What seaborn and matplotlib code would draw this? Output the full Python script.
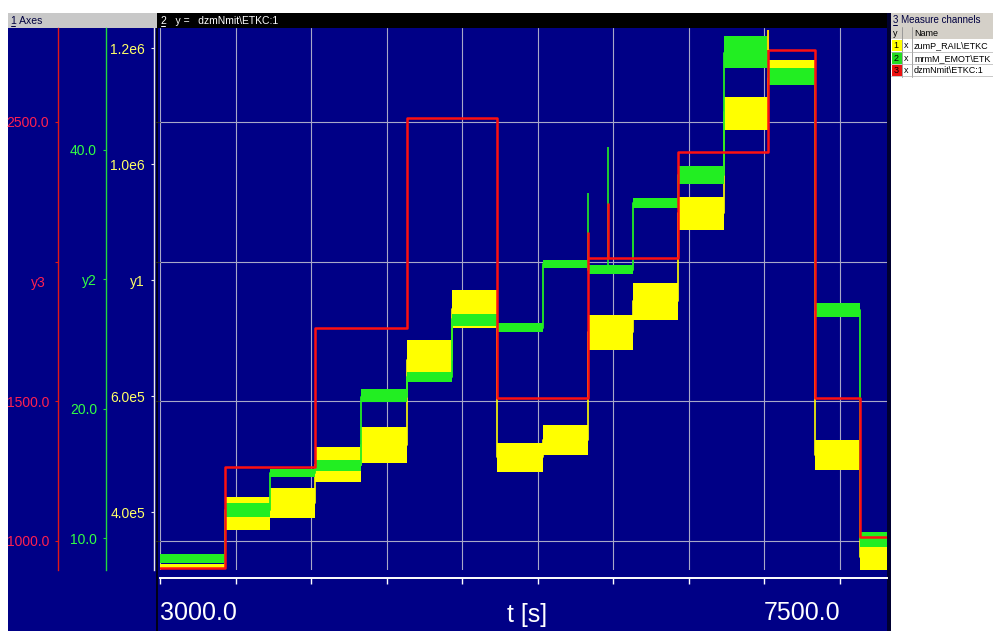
import matplotlib
matplotlib.use('Agg')
import matplotlib.pyplot as plt
from matplotlib.patches import Rectangle
import pandas as pd
import seaborn as sns

# ---------------- data ----------------
# segment edges of the measurement [s]
t_edges = [3000, 3430, 3728, 4026, 4330, 4634, 4932, 5230, 5534,
           5832, 6130, 6428, 6732, 7023, 7334, 7632, 7811]

# y3 : dzmNmit\ETKC:1 (red), one level per segment
rpm = [903, 1265, 1265, 1763, 1763, 2515, 2515, 1512, 1512,
       2013, 2013, 2393, 2393, 2758, 1512, 1014]

# y2 : mrmM_EMOT\ETKC:1 (green), level and noise band per segment
trq = [8.45, 12.2, 15.0, 15.65, 20.9, 22.45, 26.9, 26.25, 31.2,
       30.75, 35.9, 38.1, 47.5, 45.65, 27.6, 9.85]
trq_lo = [8.1, 11.6, 14.7, 15.2, 20.5, 22.1, 26.4, 25.9, 30.9,
          30.4, 35.5, 37.4, 46.3, 45.0, 27.1, 9.3]
trq_hi = [8.8, 12.7, 15.3, 16.0, 21.5, 22.8, 27.3, 26.6, 31.5,
          31.1, 36.3, 38.8, 48.8, 46.3, 28.2, 10.5]

# y1 : zumP_RAIL\ETKC:1 (yellow), level and noise band per segment
rail = [3.07e5, 3.98e5, 4.16e5, 4.81e5, 5.16e5, 6.62e5, 7.50e5, 4.95e5, 5.24e5,
        7.10e5, 7.64e5, 9.16e5, 1.090e6, 1.157e6, 4.98e5, 3.22e5]
rail_lo = [3.04e5, 3.69e5, 3.90e5, 4.52e5, 4.84e5, 6.28e5, 7.17e5, 4.69e5, 4.98e5,
           6.79e5, 7.31e5, 8.86e5, 1.059e6, 1.136e6, 4.72e5, 3.00e5]
rail_hi = [3.10e5, 4.26e5, 4.41e5, 5.12e5, 5.47e5, 6.97e5, 7.83e5, 5.19e5, 5.50e5,
           7.40e5, 7.95e5, 9.43e5, 1.116e6, 1.179e6, 5.24e5, 3.43e5]

# short spikes after the switches
spike_t = [5832, 5964]
rpm_spike = [2106, 2210]
trq_spike = [36.7, 40.2]
top_spike_t = [7023]
top_spike_rpm = [2830]

# channel names as far as the narrow table column shows them
channel_ids = ['1', '2', '3']
channel_names = ['zumP_RAIL\\ETKC', 'mrmM_EMOT\\ETK', 'dzmNmit\\ETKC:1']

x_ticks = [3000, 3500, 4000, 4500, 5000, 5500, 6000, 6500, 7000, 7500]
x_labels = ['3000.0', '', '', '', '', '', '', '', '', '7500.0']
y3_ticks = [1000, 1500, 2000, 2500]
y3_labels = ['1000.0', '1500.0', '', '2500.0']
y2_ticks = [10, 20, 30, 40]
y2_labels = ['10.0', '20.0', 'y2', '40.0']
y1_ticks = [4e5, 6e5, 8e5, 1.0e6, 1.2e6]
y1_labels = ['4.0e5', '6.0e5', 'y1', '1.0e6', '1.2e6']

# ---------------- style ----------------
BLUE = '#000086'
RED = '#ff1010'
GREEN = '#22ee22'
YELLOW = '#ffff00'
GRID = '#a8a8c8'
ARIAL = ['Liberation Sans', 'DejaVu Sans']

sns.set_style('white')
plt.rcParams['font.family'] = ARIAL

W, H = 993, 631


def box(x0, y0, x1, y1):
    return [x0 / W, 1 - y1 / H, (x1 - x0) / W, (y1 - y0) / H]


fig = plt.figure(figsize=(W / 100, H / 100), dpi=100, facecolor='white')

# window background (pixel coordinates)
bg = fig.add_axes([0, 0, 1, 1])
bg.set_xlim(0, W)
bg.set_ylim(H, 0)
bg.axis('off')
for x0, y0, w, h, c in [(8, 13, 149, 15, '#c8c8c8'), (8, 28, 149, 603, BLUE),
                        (157, 13, 731, 15, 'black'), (157, 28, 731, 603, BLUE),
                        (156, 28, 2, 603, '#000018'), (887, 13, 4, 618, '#000030'),
                        (891, 13, 102, 14, '#d4d0c8'), (891, 27, 102, 12, '#d4d0c8')]:
    bg.add_patch(Rectangle((x0, y0), w, h, color=c, lw=0))

bg.text(11, 20.5, '1 Axes', fontsize=7.5, color='#000040', va='center')
bg.plot([11, 15], [25.5, 25.5], color='#000040', lw=0.7)
bg.text(161, 20.5, '2   y =   dzmNmit\\ETKC:1', fontsize=7.5, color='white', va='center')
bg.plot([161, 165], [25.5, 25.5], color='white', lw=0.7)
bg.text(893, 20, '3 Measure channels', fontsize=7, color='#000040', va='center')
bg.plot([893, 897], [25, 25], color='#000040', lw=0.7)

# channel table
bg.text(893, 33.5, 'y', fontsize=6.5, color='black', va='center')
bg.text(914, 33.5, 'Name', fontsize=6.5, color='black', va='center')
for xv in [902, 912]:
    bg.plot([xv, xv], [27, 77], color='#909090', lw=0.6)
for i, (cid, name, col) in enumerate(zip(channel_ids, channel_names,
                                          [YELLOW, '#22dd22', '#ee1111'])):
    y0 = 40 + i * 12.3
    bg.add_patch(Rectangle((892, y0), 9.5, 11.3, color=col, lw=0))
    bg.text(893.5, y0 + 6, cid, fontsize=6.5, color='black', va='center')
    bg.text(904, y0 + 6, 'x', fontsize=6.5, color='black', va='center')
    bg.text(914, y0 + 6, name, fontsize=6.5, color='black', va='center')
    bg.plot([891, 993], [y0 + 11.8, y0 + 11.8], color='#b0b0b0', lw=0.5)

# ---------------- main plot ----------------
ax = fig.add_axes(box(160, 28, 887, 570))
ax.set_facecolor(BLUE)
ax.set_xlim(3000, 7811)
ax.set_ylim(896, 2836)
ax.set_xticks(x_ticks)
ax.set_xticklabels(x_labels)
ax.set_yticks(y3_ticks)
ax.tick_params(axis='y', left=False, labelleft=False)
ax.tick_params(axis='x', bottom=True, direction='out', colors='white',
               length=4.5, width=1.0, labelsize=18, pad=12)
ax.grid(True, color=GRID, lw=0.8)
for s in ['top', 'right', 'left']:
    ax.spines[s].set_visible(False)
ax.spines['bottom'].set_color('white')
ax.spines['bottom'].set_linewidth(1.4)
ax.spines['bottom'].set_position(('outward', 5.8))
labs = ax.get_xticklabels()
labs[0].set_ha('left')
labs[-1].set_ha('right')
ax.text(0.505, -0.083, 't [s]', transform=ax.transAxes, color='white',
        fontsize=18, ha='center', va='center')

ax1 = ax.twinx()
ax2 = ax.twinx()
ax3 = ax.twinx()
lims = {ax1: (3.0e5, 1.2345e6), ax2: (7.53, 49.43), ax3: (896, 2836)}
for a, lim in lims.items():
    a.set_ylim(*lim)
    a.axis('off')


def steps(vals):
    return pd.DataFrame({'t': t_edges, 'v': list(vals) + [vals[-1]]})


# yellow rail pressure: noise band plus centre line
ax1.fill_between(t_edges, rail_lo + rail_lo[-1:], rail_hi + rail_hi[-1:],
                 step='post', color=YELLOW, lw=0)
sns.lineplot(data=steps(rail), x='t', y='v', ax=ax1, color=YELLOW, lw=1.2,
             drawstyle='steps-post', estimator=None, sort=False)

# green torque
ax2.fill_between(t_edges, trq_lo + trq_lo[-1:], trq_hi + trq_hi[-1:],
                 step='post', color=GREEN, lw=0)
sns.lineplot(data=steps(trq), x='t', y='v', ax=ax2, color=GREEN, lw=1.3,
             drawstyle='steps-post', estimator=None, sort=False)
ax2.vlines(spike_t, [trq[9]] * 2, trq_spike, color=GREEN, lw=1.2)

# red engine speed
sns.lineplot(data=steps(rpm), x='t', y='v', ax=ax3, color=RED, lw=1.8,
             drawstyle='steps-post', estimator=None, sort=False)
ax3.vlines(spike_t, [rpm[9]] * 2, rpm_spike, color=RED, lw=1.8)
ax3.vlines(top_spike_t, [rpm[13]], top_spike_rpm, color='#ffcc00', lw=1.5)
for a in (ax1, ax2, ax3):
    a.set_xlim(3000, 7811)
    a.set_xlabel('')
    a.set_ylabel('')

# ---------------- axis scales in the left panel ----------------
scales = [(58, lims[ax3], y3_ticks, y3_labels, '#e01818', '#ff2050'),
          (106, lims[ax2], y2_ticks, y2_labels, '#20d840', '#33ff44'),
          (154, lims[ax1], y1_ticks, y1_labels, '#e8e8e8', '#ffff66')]
for xpix, lim, ticks, labels, lc, tc in scales:
    sa = fig.add_axes(box(xpix, 28, xpix + 1, 570))
    sa.set_facecolor('none')
    sa.set_ylim(*lim)
    sa.set_xticks([])
    sa.set_yticks(ticks)
    sa.set_yticklabels(labels, fontsize=10)
    for s in ['top', 'right', 'bottom']:
        sa.spines[s].set_visible(False)
    sa.spines['left'].set_color(lc)
    sa.spines['left'].set_linewidth(1.0)
    sa.tick_params(axis='y', left=True, direction='out', colors=lc,
                   labelcolor=tc, length=2.5, width=0.8, pad=4)

bg.text(38, 283, 'y3', fontsize=10, color='#ff2050', ha='center', va='center')

fig.savefig('out.png', dpi=100, facecolor='white')
